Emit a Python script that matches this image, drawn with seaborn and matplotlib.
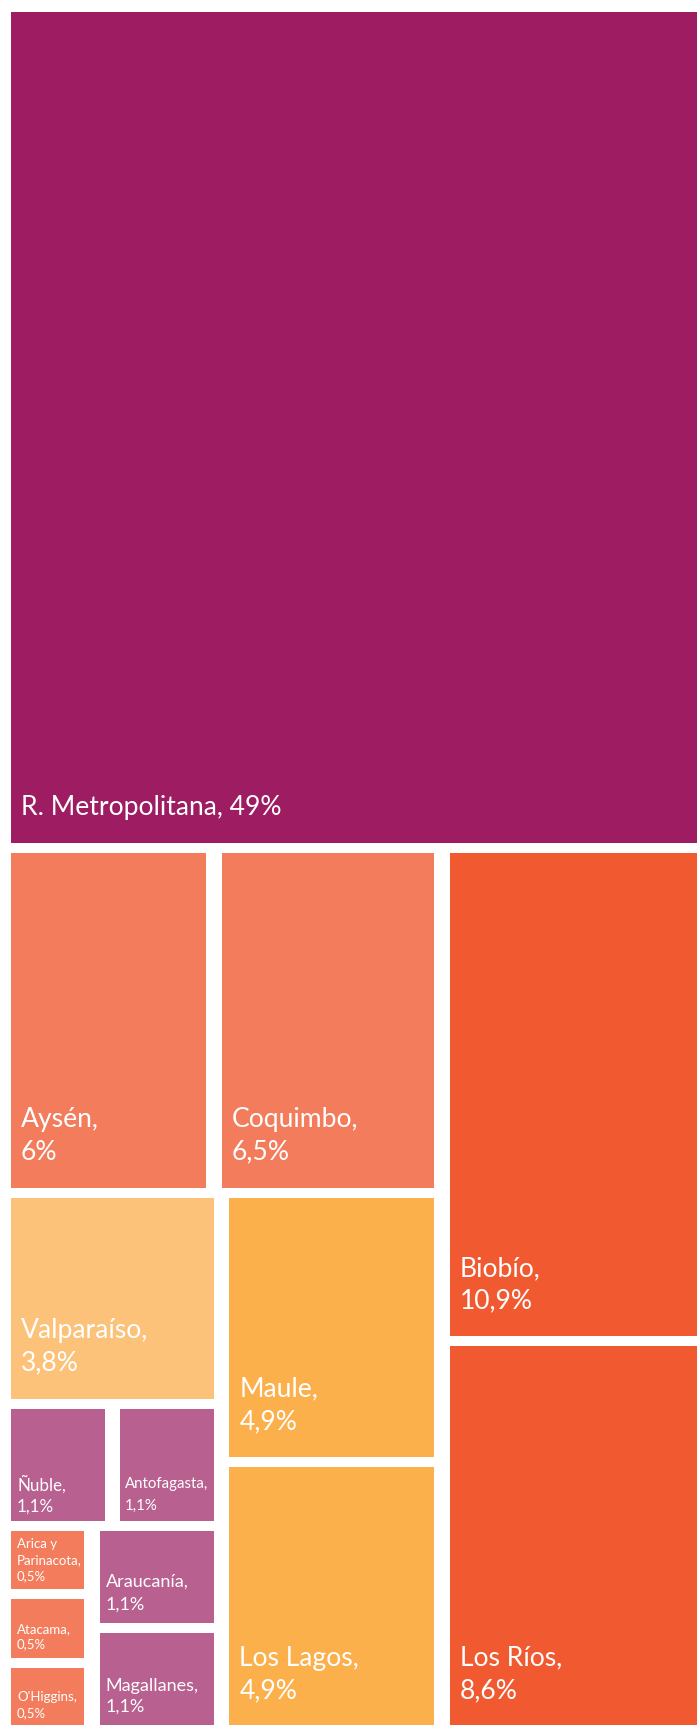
import matplotlib
matplotlib.use("Agg")
import matplotlib.pyplot as plt
import seaborn as sns
from matplotlib.patches import Rectangle

# ---------------- data ----------------
regions = ["R. Metropolitana", "Biobío", "Los Ríos", "Coquimbo", "Aysén", "Maule",
           "Los Lagos", "Valparaíso", "Ñuble", "Antofagasta", "Araucanía",
           "Magallanes", "Arica y Parinacota", "Atacama", "O'Higgins"]
shares = [49.0, 10.9, 8.6, 6.5, 6.0, 4.9, 4.9, 3.8, 1.1, 1.1, 1.1, 1.1, 0.5, 0.5, 0.5]

# ---------------- styles ----------------
colors = {
    "R. Metropolitana": "#9E1D62",
    "Biobío": "#F15A31", "Los Ríos": "#F15A31",
    "Coquimbo": "#F37C5C", "Aysén": "#F37C5C",
    "Arica y Parinacota": "#F37C5C", "Atacama": "#F37C5C", "O'Higgins": "#F37C5C",
    "Maule": "#FBB04C", "Los Lagos": "#FBB04C",
    "Valparaíso": "#FCC27A",
    "Ñuble": "#B8608F", "Antofagasta": "#B8608F",
    "Araucanía": "#B8608F", "Magallanes": "#B8608F",
}
# font px, left pad px, bottom pad px (baseline of last line), line height factor
BIG = (26.5, 10, 28, 1.22)
SMALL = (13.2, 6, 9, 1.2)
label_style = {
    "R. Metropolitana": BIG, "Biobío": BIG, "Los Ríos": BIG, "Coquimbo": BIG,
    "Aysén": BIG, "Maule": BIG, "Los Lagos": BIG, "Valparaíso": BIG,
    "Ñuble": (17, 6, 9, 1.24), "Antofagasta": (15, 5, 11, 1.42),
    "Araucanía": (18, 6, 14, 1.24), "Magallanes": (18, 6, 14, 1.15),
    "Arica y Parinacota": SMALL, "Atacama": SMALL, "O'Higgins": SMALL,
}
one_line = {"R. Metropolitana"}
wrap_names = {"Arica y Parinacota": "Arica y\nParinacota"}

# nesting of the treemap ("v" = stacked top to bottom, "h" = side by side)
tree = ("v", [
    "R. Metropolitana",
    ("h", [
        ("v", [
            ("h", ["Aysén", "Coquimbo"]),
            ("h", [
                ("v", [
                    "Valparaíso",
                    ("h", ["Ñuble", "Antofagasta"]),
                    ("h", [
                        ("v", ["Arica y Parinacota", "Atacama", "O'Higgins"]),
                        ("v", ["Araucanía", "Magallanes"]),
                    ]),
                ]),
                ("v", ["Maule", "Los Lagos"]),
            ]),
        ]),
        ("v", ["Biobío", "Los Ríos"]),
    ]),
])

value_of = dict(zip(regions, shares))


def total(node):
    if isinstance(node, str):
        return value_of[node]
    return sum(total(c) for c in node[1])


def layout(node, x0, y0, x1, y1, out):
    if isinstance(node, str):
        out[node] = (x0, y0, x1, y1)
        return
    kind, children = node
    tot = total(node)
    pos = x0 if kind == "h" else y0
    for c in children:
        frac = total(c) / tot
        if kind == "h":
            step = (x1 - x0) * frac
            layout(c, pos, y0, pos + step, y1, out)
        else:
            step = (y1 - y0) * frac
            layout(c, x0, pos, x1, pos + step, out)
        pos += step


def fmt(v):
    s = f"{v:.1f}"
    if s.endswith(".0"):
        s = s[:-2]
    return s.replace(".", ",") + "%"


W, H, DPI = 697, 1725, 100
sns.set_theme(style="white")
plt.rcParams["font.family"] = ["Lato", "DejaVu Sans"]

fig = plt.figure(figsize=(W / DPI, H / DPI), dpi=DPI)
fig.patch.set_facecolor("white")
ax = fig.add_axes([0, 0, 1, 1])
ax.set_xlim(0, W)
ax.set_ylim(H, 0)
ax.axis("off")

X0, Y0, X1, Y1 = 3.3, 7.0, 709.3, 1731.0
GX, GY = 15.5, 10.0

cells = {}
layout(tree, X0, Y0, X1, Y1, cells)

for name in regions:
    x0, y0, x1, y1 = cells[name]
    rx0, ry0 = x0 + GX / 2, y0 + GY / 2
    rw, rh = (x1 - x0) - GX, (y1 - y0) - GY
    ax.add_patch(Rectangle((rx0, ry0), rw, rh, facecolor=colors[name],
                           edgecolor="none", linewidth=0))
    fs, padl, padb, lh = label_style[name]
    disp = wrap_names.get(name, name)
    sep = " " if name in one_line else "\n"
    lines = (disp + "," + sep + fmt(value_of[name])).split("\n")
    base = ry0 + rh - padb
    for i, line in enumerate(reversed(lines)):
        ax.text(rx0 + padl, base - i * fs * lh, line, color="white",
                fontsize=fs * 72 / DPI, ha="left", va="baseline")

fig.savefig("out.png", dpi=DPI, facecolor="white")
